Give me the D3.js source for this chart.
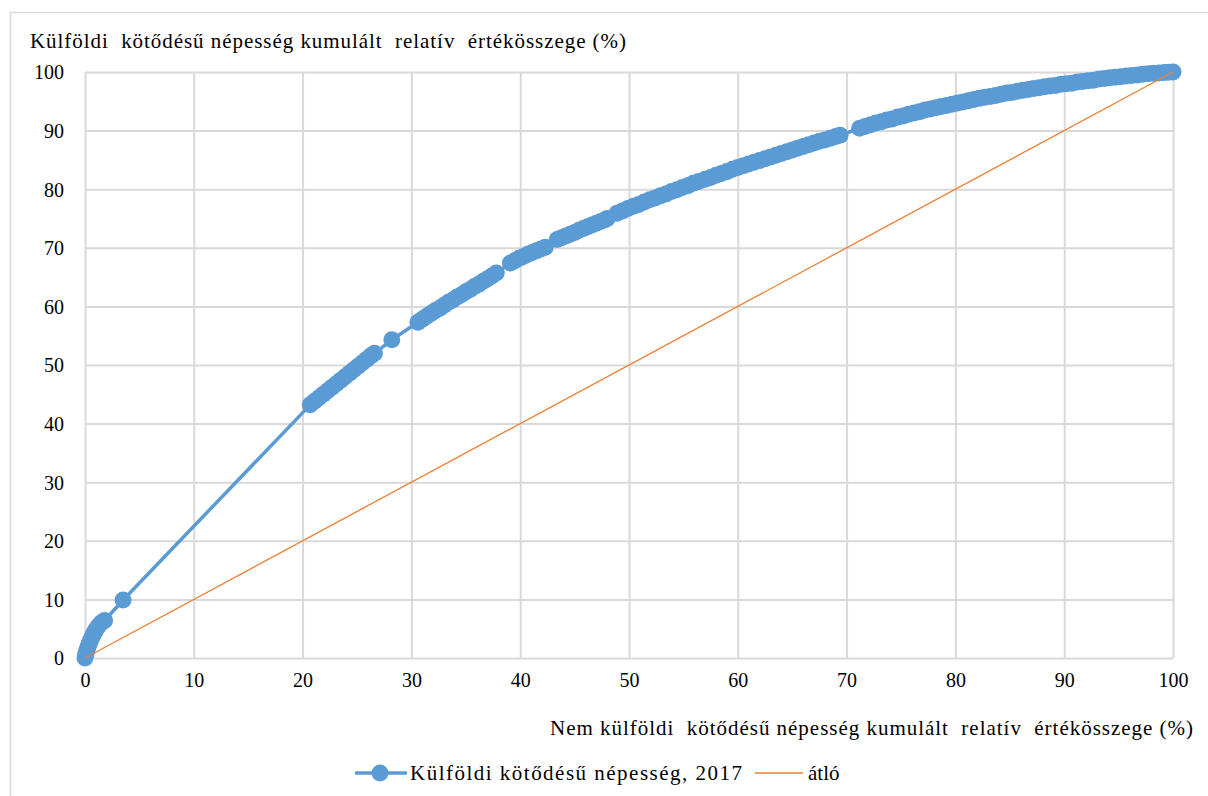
<!DOCTYPE html>
<html>
<head>
<meta charset="utf-8">
<script src="https://cdn.jsdelivr.net/npm/d3@7"></script>
<style>
  html, body { margin: 0; padding: 0; background: #ffffff; }
  svg { display: block; }
  svg text { font-family: "Liberation Serif", Tinos, "Times New Roman", "DejaVu Serif", serif; fill: #000; }
</style>
</head>
<body>
<svg id="chart" width="1208" height="796"></svg>
<script>
// ---- Data ----
const yTitle = "Külföldi  kötődésű népesség kumulált  relatív  értékösszege (%)";
const xTitle = "Nem külföldi  kötődésű népesség kumulált  relatív  értékösszege (%)";
const seriesName = "Külföldi kötődésű népesség, 2017";
const diagName = "átló";
const xTicks = [0, 10, 20, 30, 40, 50, 60, 70, 80, 90, 100];
const yTicks = [0, 10, 20, 30, 40, 50, 60, 70, 80, 90, 100];

// Lorenz-type curve: x = non-foreign cumulative share, y = foreign cumulative share
const curveX = [
  0, 0.05, 0.12, 0.2, 0.3, 0.4, 0.5, 0.62, 0.75, 0.9, 1.05, 1.25, 1.5, 1.8,
  3.5,
  20.7, 21.1, 21.5, 21.9, 22.3, 22.7, 23.1, 23.5, 23.9, 24.3, 24.7, 25.1, 25.5, 25.9, 26.3, 26.6,
  28.2,
  30.6, 31.0, 31.4, 31.8, 32.2, 32.6, 33.0, 33.4, 33.8, 34.2, 34.6, 35.0, 35.4, 35.8, 36.2, 36.6, 37.0, 37.4, 37.8,
  39.1, 39.5, 39.9, 40.3, 40.7, 41.1, 41.5, 41.9, 42.3,
  43.4, 43.8, 44.2, 44.6, 45.0, 45.4, 45.8, 46.2, 46.6, 47.0, 47.4, 47.8, 48.0,
  48.9, 49.4, 49.9, 50.4, 50.9, 51.4, 51.9, 52.4, 52.9, 53.4, 53.9, 54.4, 54.9, 55.4, 55.9, 56.4,
  57.0, 57.5, 58.0, 58.5, 59.0, 59.5, 60.0, 60.5, 61.0, 61.5, 62.0, 62.5, 63.0, 63.5, 64.0, 64.5,
  65.0, 65.5, 66.0, 66.5, 67.0, 67.5, 68.0, 68.5, 69.0, 69.4,
  71.2, 71.7, 72.2, 72.7, 73.2, 73.7, 74.2, 74.7, 75.2, 75.7, 76.2, 76.7, 77.2, 77.7, 78.2, 78.7,
  79.2, 79.7, 80.2, 80.7, 81.2, 81.7, 82.2, 82.7, 83.2, 83.7, 84.2, 84.7, 85.2, 85.7, 86.2, 86.7,
  87.2, 87.7, 88.2, 88.7, 89.2, 89.7, 90.2, 90.7, 91.2, 91.7, 92.2, 92.7, 93.2, 93.7, 94.2, 94.7,
  95.2, 95.7, 96.2, 96.7, 97.2, 97.7, 98.2, 98.7, 99.2, 99.6, 100
];
const curveY = [
  0, 0.5, 1.0, 1.5, 2.0, 2.5, 3.0, 3.5, 4.0, 4.5, 5.0, 5.5, 6.0, 6.4,
  9.9,
  43.2, 43.8, 44.4, 45.0, 45.6, 46.2, 46.8, 47.4, 48.0, 48.6, 49.2, 49.8, 50.4, 51.0, 51.6, 52.0,
  54.3,
  57.3, 57.8, 58.3, 58.8, 59.3, 59.7, 60.2, 60.7, 61.1, 61.6, 62.0, 62.5, 62.9, 63.4, 63.8, 64.3, 64.7, 65.2, 65.7,
  67.4, 67.8, 68.2, 68.5, 68.9, 69.2, 69.5, 69.8, 70.1,
  71.4, 71.7, 72.0, 72.3, 72.6, 73.0, 73.3, 73.6, 73.9, 74.2, 74.5, 74.8, 75.0,
  75.9, 76.3, 76.7, 77.1, 77.4, 77.8, 78.2, 78.5, 78.9, 79.2, 79.6, 79.9, 80.3, 80.6, 81.0, 81.3,
  81.7, 82.0, 82.4, 82.7, 83.0, 83.4, 83.7, 84.0, 84.3, 84.6, 84.9, 85.2, 85.5, 85.8, 86.1, 86.4,
  86.7, 87.0, 87.3, 87.6, 87.9, 88.2, 88.4, 88.7, 89.0, 89.2,
  90.4, 90.7, 91.0, 91.3, 91.5, 91.8, 92.0, 92.3, 92.5, 92.8, 93.0, 93.2, 93.5, 93.7, 93.9, 94.1,
  94.3, 94.5, 94.7, 94.9, 95.1, 95.3, 95.5, 95.7, 95.8, 96.0, 96.2, 96.4, 96.5, 96.7, 96.9, 97.0,
  97.2, 97.3, 97.5, 97.6, 97.7, 97.9, 98.0, 98.1, 98.3, 98.4, 98.5, 98.6, 98.8, 98.9, 99.0, 99.1,
  99.2, 99.3, 99.4, 99.5, 99.6, 99.7, 99.8, 99.85, 99.9, 99.95, 100
];
const diagX = [0, 100];
const diagY = [0, 100];

// ---- Layout ----
const FONT = '"Liberation Serif", Tinos, "Times New Roman", "DejaVu Serif", serif';
const svg = d3.select("#chart");
const W = 1208, H = 796;
const plot = { left: 85, right: 1173, top: 72, bottom: 658 };
const blue = "#5b9bd5", orange = "#ed7d31", grid = "#d9d9d9";

const x = d3.scaleLinear().domain([0, 100]).range([plot.left, plot.right]);
const y = d3.scaleLinear().domain([0, 100]).range([plot.bottom, plot.top]);

// outer chart border
svg.append("rect")
  .attr("x", 10.5).attr("y", 12.5)
  .attr("width", W + 20).attr("height", H + 20)
  .attr("fill", "none").attr("stroke", grid).attr("stroke-width", 1.5);

// gridlines via axes
const gx = svg.append("g")
  .attr("transform", `translate(0,${plot.bottom})`)
  .call(d3.axisBottom(x).tickValues(xTicks).tickSize(-(plot.bottom - plot.top)).tickFormat(d3.format("d")));
gx.attr("font-family", FONT);
gx.select(".domain").remove();
gx.selectAll(".tick line").attr("stroke", grid).attr("stroke-width", 2);
gx.selectAll(".tick text")
  .attr("y", 29).attr("dy", 0)
  .style("font-family", FONT)
  .style("font-size", "20px").attr("fill", "#000");

const gy = svg.append("g")
  .attr("transform", `translate(${plot.left},0)`)
  .call(d3.axisLeft(y).tickValues(yTicks).tickSize(-(plot.right - plot.left)).tickFormat(d3.format("d")));
gy.attr("font-family", FONT);
gy.select(".domain").remove();
gy.selectAll(".tick line").attr("stroke", grid).attr("stroke-width", 2);
gy.selectAll(".tick text")
  .attr("x", -21).attr("dy", "0.34em")
  .style("font-family", FONT)
  .style("font-size", "20px").attr("fill", "#000");

// axis titles
svg.append("text")
  .attr("x", 30).attr("y", 48)
  .style("font-family", FONT)
  .style("font-size", "21px")
  .attr("xml:space", "preserve")
  .style("white-space", "pre")
  .attr("textLength", 596).attr("lengthAdjust", "spacing")
  .text(yTitle);

svg.append("text")
  .attr("x", 550).attr("y", 735)
  .style("font-family", FONT)
  .style("font-size", "21px")
  .attr("xml:space", "preserve")
  .style("white-space", "pre")
  .attr("textLength", 643).attr("lengthAdjust", "spacing")
  .text(xTitle);

// series line + markers
const pts = curveX.map((v, i) => [v, curveY[i]]);
const line = d3.line().x(d => x(d[0])).y(d => y(d[1]));

svg.append("path")
  .datum(pts)
  .attr("d", line)
  .attr("fill", "none")
  .attr("stroke", blue)
  .attr("stroke-width", 3.5)
  .attr("stroke-linejoin", "round");

svg.append("g").selectAll("circle")
  .data(pts).join("circle")
  .attr("cx", d => x(d[0]))
  .attr("cy", d => y(d[1]))
  .attr("r", 8.5)
  .attr("fill", blue);

// diagonal
const dpts = diagX.map((v, i) => [v, diagY[i]]);
svg.append("path")
  .datum(dpts)
  .attr("d", line)
  .attr("fill", "none")
  .attr("stroke", orange)
  .attr("stroke-width", 1.3);

// legend
const ly = 773;
const lg = svg.append("g").style("font-family", FONT);
lg.append("line").attr("x1", 355).attr("x2", 407).attr("y1", ly).attr("y2", ly)
  .attr("stroke", blue).attr("stroke-width", 3.5);
lg.append("circle").attr("cx", 380).attr("cy", ly).attr("r", 8.5).attr("fill", blue);
lg.append("text").attr("x", 410).attr("y", ly + 7).style("font-size", "21px")
  .attr("textLength", 332).attr("lengthAdjust", "spacing").text(seriesName);
lg.append("line").attr("x1", 755).attr("x2", 803).attr("y1", ly).attr("y2", ly)
  .attr("stroke", orange).attr("stroke-width", 1.3);
lg.append("text").attr("x", 808).attr("y", ly + 7).style("font-size", "21px").text(diagName);
</script>
</body>
</html>
